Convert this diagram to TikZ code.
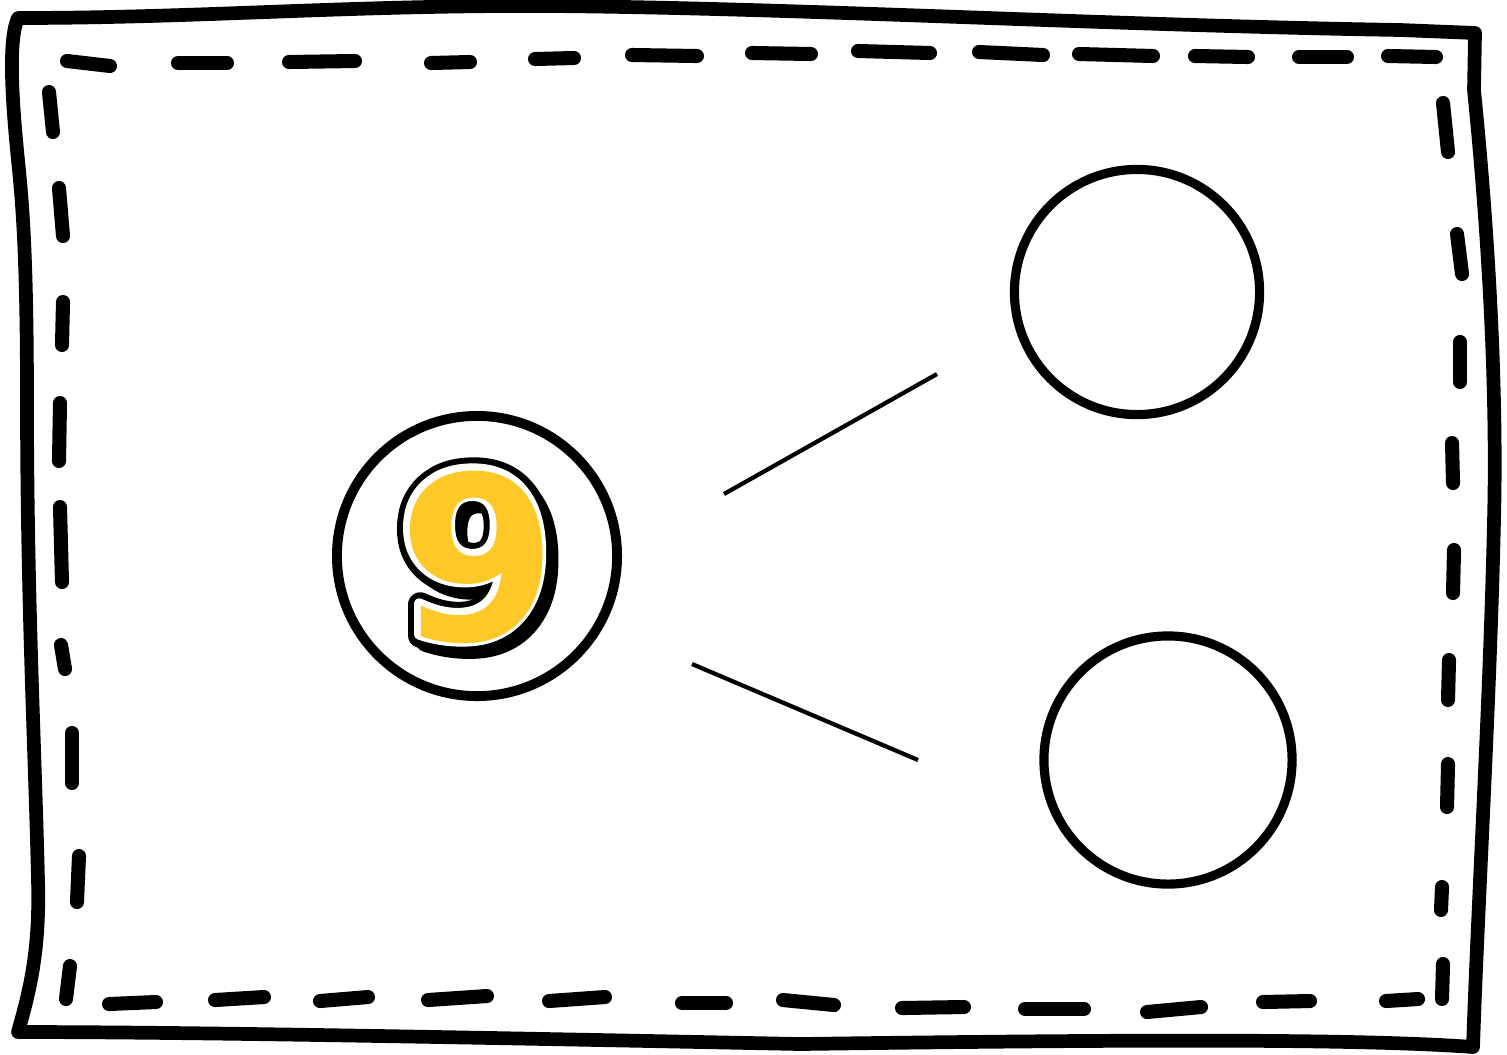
\documentclass[tikz,border=0pt]{standalone}
\usepackage{fontspec}
\usetikzlibrary{calc}
\newfontfamily\digitfont{DejaVu Sans}
\definecolor{nineyellow}{RGB}{253,200,40}
% outlined glyphs: fill and stroke the text with a given stroke width
\newcommand\strokedtext[2]{\special{pdf:literal direct 2 Tr 1 j 1 J #1 w}#2\special{pdf:literal direct 0 Tr}}

\begin{document}
\begin{tikzpicture}[x=0.01cm,y=-0.01cm,
  frame/.style={line width=3.9pt,line cap=round,line join=round},
  stitch/.style={line width=4pt,line cap=round},
  ring/.style={circle,draw,line width=2.8pt,inner sep=0pt},
  link/.style={line width=1.2pt},
  digit/.style={font=\digitfont\bfseries\fontsize{65}{65}\selectfont,inner sep=0pt}]
\useasboundingbox (0,0) rectangle (1507,1054);
\fill[white] (0,0) rectangle (1507,1054);
% hand drawn outer frame
\draw[frame]
  (18,18) .. controls (200,18) and (350,5) ..
  (550,6) .. controls (800,8) and (1100,25) ..
  (1400,30) -- (1475,33) -- (1474,90) .. controls (1490,250) and (1497,400) ..
  (1494,520) .. controls (1490,700) and (1478,900) ..
  (1473,1047) .. controls (1350,1038) and (1100,1040) ..
  (800,1044) .. controls (500,1038) and (200,1032) ..
  (18,1032) .. controls (30,990) and (40,950) ..
  (38,880) .. controls (35,750) and (27,600) ..
  (27,400) .. controls (27,250) and (22,200) ..
  (18,160) .. controls (12,100) and (8,40) .. cycle;
% stitches: top, right, bottom, left
\foreach \xa/\ya/\xb/\yb in {
  67/61/110/66, 178/63/227/63, 289/62/355/61, 431/63/470/62,
  535/59/574/58, 632/55/697/56, 752/53/811/54, 858/51/930/53,
  979/52/1043/55, 1079/54/1153/56, 1195/56/1248/57, 1299/57/1347/57,
  1388/56/1436/57,
  1443/103/1448/152, 1457/234/1462/274, 1460/342/1460/382,
  1452/443/1453/483, 1454/550/1453/593, 1449/660/1448/700,
  1448/764/1447/807, 1442/887/1441/910, 1443/964/1442/999,
  109/1004/156/1002, 215/1000/264/997, 320/1001/368/997,
  428/1000/487/996, 549/1001/605/997, 682/1003/726/1003,
  783/1000/834/1005, 902/1008/964/1007, 1025/1009/1084/1009,
  1147/1012/1201/1007, 1263/1002/1310/1001, 1386/1001/1418/999,
  49/92/53/132, 59/188/63/236, 63/302/62/345, 60/403/59/461,
  60/507/62/582, 61/645/65/669, 72/733/72/783, 79/856/77/902,
  70/966/66/999
}{
  \draw[stitch] (\xa,\ya) -- (\xb,\yb);
}
% number bond circles
\node[ring,minimum size=2.8cm] (nine) at (477,556) {};
\node[ring,minimum size=2.45cm,line width=2.6pt] (upper) at (1137,292) {};
\node[ring,minimum size=2.48cm,line width=2.6pt] (lower) at (1168,760) {};
% the two branches
\coordinate (up1) at (724,494);
\coordinate (up2) at (937,374);
\coordinate (lo1) at (692,664);
\coordinate (lo2) at (918,760);
\draw[link] (up1) -- (up2);
\draw[link] (lo1) -- (lo2);
% outlined 9: shadow, black rim, white rim, yellow face
\node[digit,text=black] (shadow) at ($(nine)+(6,6)$) {\strokedtext{6}{9}};
\node[digit,text=black] (rim) at (nine) {\strokedtext{7}{9}};
\node[digit,text=white] (gap) at ($(nine)+(-1,-1)$) {\strokedtext{3}{9}};
\node[digit,text=nineyellow] (face) at ($(nine)+(1,1)$) {9};
\end{tikzpicture}
\end{document}
